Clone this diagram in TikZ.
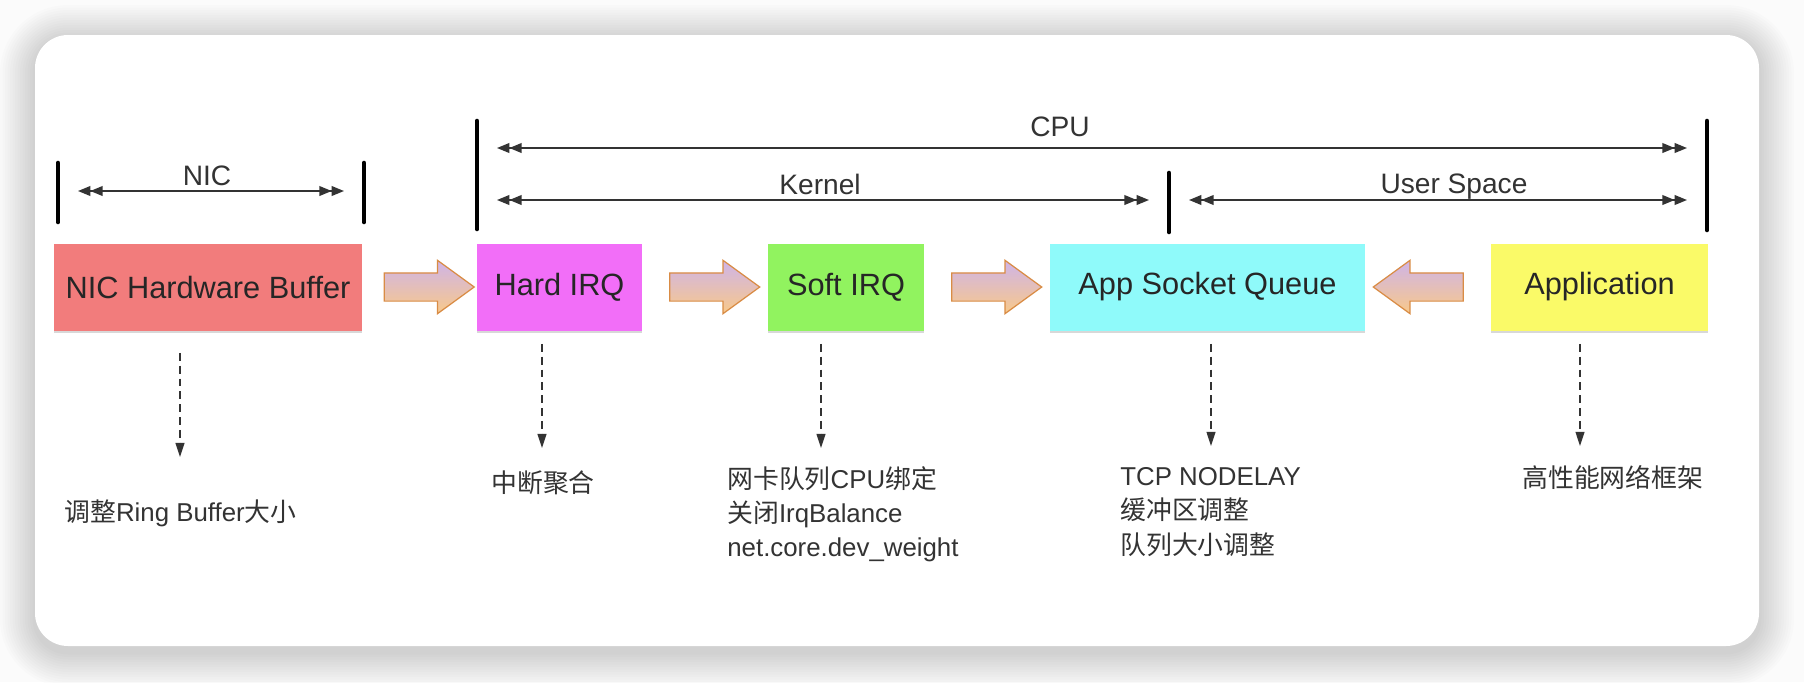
\documentclass[tikz,border=0pt]{standalone}
\usepackage{fontspec}
\setmainfont{Liberation Sans}
\newfontfamily\cjk{Noto Sans CJK SC}
\usetikzlibrary{arrows.meta,shapes.arrows,shadows,calc}
\definecolor{pagebg}{HTML}{FBFBFB}
\definecolor{nicred}{HTML}{F27C7C}
\definecolor{hardpink}{HTML}{F26EF8}
\definecolor{softgreen}{HTML}{91F35F}
\definecolor{sockcyan}{HTML}{8FFAFA}
\definecolor{appyellow}{HTML}{FAFA68}
\definecolor{arrowtop}{HTML}{CFB4E8}
\definecolor{arrowbot}{HTML}{F8C98A}
\definecolor{arrowline}{HTML}{D98C45}
\definecolor{inkgray}{HTML}{333333}
\tikzset{
  stage/.style={minimum height=1.74cm, inner sep=0pt, font=\fontsize{17.5}{20}\selectfont, text=black!85,
    drop shadow={shadow xshift=0pt,shadow yshift=-1.2pt,opacity=.3}},
  flow/.style={single arrow, draw=arrowline, line width=.7pt, top color=arrowtop, bottom color=arrowbot,
    minimum height=1.8cm, minimum width=1.06cm, inner xsep=0pt, inner ysep=0.27cm,
    single arrow tip angle=72},
  span/.style={draw=inkgray, line width=.9pt, shorten <=0.4cm, shorten >=0.4cm,
    {Triangle[length=7pt,width=5.5pt]Triangle[length=7pt,width=5.5pt]}-{Triangle[length=7pt,width=5.5pt]Triangle[length=7pt,width=5.5pt]}},
  bar/.style={line width=2.6pt, line cap=round},
  tune/.style={draw=inkgray, line width=.85pt, dash pattern=on 4.5pt off 2.8pt, -{Triangle[length=8pt,width=5pt]}},
  note/.style={font=\fontsize{14.7}{19.4}\selectfont, text=inkgray, align=left, inner sep=0pt, anchor=west},
  spanlabel/.style={font=\fontsize{16}{18}\selectfont, text=inkgray, inner sep=0pt, anchor=base}
}
\begin{document}
\begin{tikzpicture}[scale=2]
\useasboundingbox (0,0) rectangle (18.04,-6.82);
\fill[pagebg] (0,0) rectangle (18.04,-6.82);
% soft card shadow
\foreach \i [evaluate=\i as \r using 0.66+\i*0.05] in {1,...,14}
  \fill[black,opacity=.013,rounded corners=\r cm] ({0.35-\i*0.025},{-0.40+\i*0.025}) rectangle ({17.59+\i*0.025},{-6.52-\i*0.025});
\fill[white,rounded corners=0.66cm] (0.35,-0.35) rectangle (17.59,-6.46);

% stages
\node[stage,fill=nicred,minimum width=6.16cm] (nic) at (2.08,-2.87) {NIC Hardware Buffer};
\node[stage,fill=hardpink,minimum width=3.30cm] (hard) at (5.595,-2.87) {Hard IRQ};
\node[stage,fill=softgreen,minimum width=3.12cm] (soft) at (8.46,-2.87) {Soft IRQ};
\node[stage,fill=sockcyan,minimum width=6.30cm] (sock) at (12.075,-2.87) {App Socket Queue};
\node[stage,fill=appyellow,minimum width=4.34cm] (app) at (15.995,-2.87) {Application};

\node[flow] (f1) at ($(nic.east)!.5!(hard.west)$) {};
\node[flow] (f2) at ($(hard.east)!.5!(soft.west)$) {};
\node[flow] (f3) at ($(soft.east)!.5!(sock.west)$) {};
\node[flow,rotate=180] (f4) at ($(sock.east)!.5!(app.west)$) {};

% ranges
\draw[bar] (0.58,-1.63) -- (0.58,-2.22);
\draw[bar] (3.64,-1.63) -- (3.64,-2.22);
\draw[bar] (4.77,-1.21) -- (4.77,-2.29);
\draw[bar] (11.69,-1.73) -- (11.69,-2.32);
\draw[bar] (17.07,-1.21) -- (17.07,-2.30);
\coordinate (nicL) at (0.58,-1.91);
\coordinate (nicR) at (3.64,-1.91);
\coordinate (cpuL) at (4.77,-1.48);
\coordinate (cpuR) at (17.07,-1.48);
\coordinate (kerL) at (4.77,-2.00);
\coordinate (kerR) at (11.69,-2.00);
\coordinate (usrR) at (17.07,-2.00);
\draw[span] (nicL) -- (nicR);
\draw[span] (cpuL) -- (cpuR);
\draw[span] (kerL) -- (kerR);
\draw[span] (kerR) -- (usrR);
\node[spanlabel] (niclab) at (2.07,-1.85) {NIC};
\node[spanlabel] (cpulab) at (10.60,-1.36) {CPU};
\node[spanlabel] (kerlab) at (8.20,-1.94) {Kernel};
\node[spanlabel] (usrlab) at (14.54,-1.93) {User Space};

% tuning notes
\coordinate (t1) at (1.80,-4.57);
\coordinate (t2) at (5.42,-4.48);
\coordinate (t3) at (8.21,-4.48);
\coordinate (t4) at (12.11,-4.46);
\coordinate (t5) at (15.80,-4.46);
\draw[tune,shorten <=0.44cm] (t1 |- nic.south) -- (t1);
\draw[tune,shorten <=0.26cm] (t2 |- hard.south) -- (t2);
\draw[tune,shorten <=0.26cm] (t3 |- soft.south) -- (t3);
\draw[tune,shorten <=0.26cm] (t4 |- sock.south) -- (t4);
\draw[tune,shorten <=0.26cm] (t5 |- app.south) -- (t5);
\node[note] (n1) at (0.64,-5.13) {{\cjk 调整}Ring Buffer{\cjk 大小}};
\node[note] (n2) at (4.91,-4.83) {\cjk 中断聚合};
\node[note] (n3) at (7.27,-5.14) {{\cjk 网卡队列}CPU{\cjk 绑定}\\{\cjk 关闭}IrqBalance\\net.core.dev\_weight};
\node[note] (n4) at (11.20,-5.12) {TCP NODELAY\\{\cjk 缓冲区调整}\\{\cjk 队列大小调整}};
\node[note] (n5) at (15.22,-4.78) {\cjk 高性能网络框架};
\end{tikzpicture}
\end{document}
